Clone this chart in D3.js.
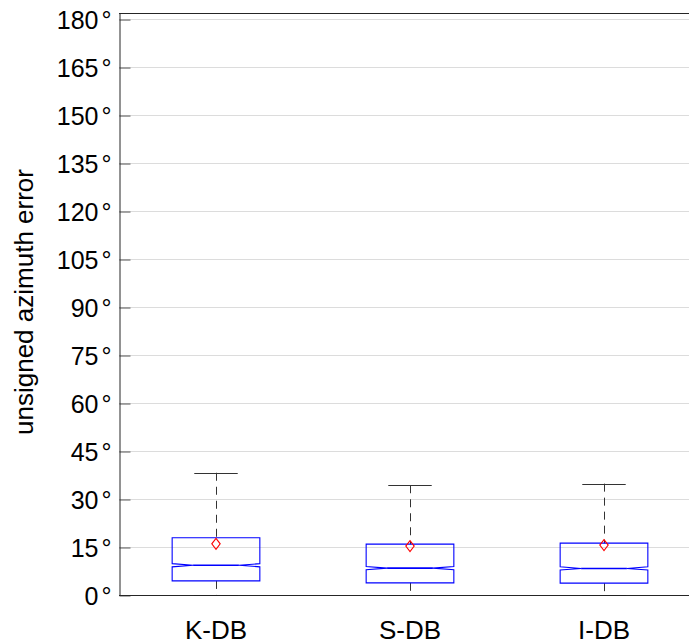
<!DOCTYPE html>
<html>
<head>
<meta charset="utf-8">
<script src="https://cdn.jsdelivr.net/npm/d3@7"></script>
<style>
  html, body { margin: 0; padding: 0; background: #fff; }
  svg { display: block; font-family: "Liberation Sans", Arial, Helvetica, sans-serif; }
</style>
</head>
<body>
<svg id="chart" width="689" height="643"></svg>
<script>
// Groups and box-plot summaries (degrees)
const categories   = ["K-DB", "S-DB", "I-DB"];
const whiskerLow   = [0, 0, 0];
const q1           = [4.4, 3.8, 3.7];
const notchLow     = [8.8, 7.9, 7.8];
const medians      = [9.3, 8.4, 8.3];
const notchHigh    = [9.8, 8.9, 8.8];
const q3           = [17.9, 15.9, 16.2];
const whiskerHigh  = [38.2, 34.3, 34.8];
const means        = [16.0, 15.3, 15.6];
const yTicks       = [0, 15, 30, 45, 60, 75, 90, 105, 120, 135, 150, 165, 180];
const yLabel       = "unsigned azimuth error";

const svg = d3.select("#chart");
const plotLeft = 119, plotRight = 701, plotTop = 13, plotBottom = 595;

const x = d3.scaleLinear().domain([0.5, categories.length + 0.5]).range([plotLeft, plotRight]);
const y = d3.scaleLinear().domain([0, 181.9]).range([plotBottom, plotTop]);

// Gridlines
svg.append("g")
  .selectAll("line")
  .data(yTicks.filter(t => t > 0))
  .join("line")
  .attr("x1", plotLeft).attr("x2", plotRight)
  .attr("y1", d => Math.round(y(d)) + 0.5).attr("y2", d => Math.round(y(d)) + 0.5)
  .attr("stroke", "#dcdcdc").attr("stroke-width", 1);

// Left axis: inward ticks, labels with degree sign
const yAxis = d3.axisLeft(y).tickValues(yTicks).tickSizeInner(-11).tickSizeOuter(0).tickPadding(0).tickFormat(() => "");
const gy = svg.append("g").attr("transform", `translate(${plotLeft + 0.5},0.5)`).call(yAxis);
gy.select(".domain").attr("stroke", "#262626");
gy.selectAll(".tick line").attr("stroke", "#262626").attr("stroke-opacity", 0.75);
gy.selectAll(".tick").each(function(d) {
  const t = d3.select(this).append("text")
    .attr("x", -8).attr("dy", "0.36em")
    .attr("text-anchor", "end").attr("fill", "#000")
    .attr("font-size", 25).attr("font-family", '"Liberation Sans", Arial, sans-serif');
  t.append("tspan").text(d);
  t.append("tspan").attr("dx", 3).text("°");
});

// Bottom axis and top frame
svg.append("line").attr("x1", plotLeft).attr("x2", plotRight)
  .attr("y1", plotBottom + 0.5).attr("y2", plotBottom + 0.5).attr("stroke", "#262626");
svg.append("line").attr("x1", plotLeft).attr("x2", plotRight)
  .attr("y1", plotTop + 0.5).attr("y2", plotTop + 0.5).attr("stroke", "#262626");

// Category labels
svg.append("g").selectAll("text")
  .data(categories)
  .join("text")
  .attr("x", (d, i) => x(i + 1))
  .attr("y", 639)
  .attr("text-anchor", "middle")
  .attr("font-size", 26)
  .attr("fill", "#000")
  .text(d => d);

// Y-axis title
svg.append("text")
  .attr("transform", `translate(33,302) rotate(-90)`)
  .attr("text-anchor", "middle")
  .attr("font-size", 26)
  .attr("fill", "#000")
  .text(yLabel);

// Boxes
const halfBox = 0.226, halfCap = 0.112, notchIn = 0.108;
const groups = svg.append("g").selectAll("g")
  .data(categories.map((c, i) => ({ c, i })))
  .join("g");

// dashed whiskers
groups.append("line")
  .attr("x1", d => Math.round(x(d.i + 1)) + 0.5).attr("x2", d => Math.round(x(d.i + 1)) + 0.5)
  .attr("y1", d => y(whiskerHigh[d.i])).attr("y2", d => y(q3[d.i]))
  .attr("stroke", "#333").attr("stroke-dasharray", "8,6");
groups.append("line")
  .attr("x1", d => Math.round(x(d.i + 1)) + 0.5).attr("x2", d => Math.round(x(d.i + 1)) + 0.5)
  .attr("y1", d => y(q1[d.i])).attr("y2", d => y(whiskerLow[d.i]))
  .attr("stroke", "#333").attr("stroke-dasharray", "8,6");
// whisker caps
groups.append("line")
  .attr("x1", d => x(d.i + 1 - halfCap)).attr("x2", d => x(d.i + 1 + halfCap))
  .attr("y1", d => Math.round(y(whiskerHigh[d.i])) + 0.5).attr("y2", d => Math.round(y(whiskerHigh[d.i])) + 0.5)
  .attr("stroke", "#333");
groups.append("line")
  .attr("x1", d => x(d.i + 1 - halfCap)).attr("x2", d => x(d.i + 1 + halfCap))
  .attr("y1", d => Math.round(y(whiskerLow[d.i])) + 0.5).attr("y2", d => Math.round(y(whiskerLow[d.i])) + 0.5)
  .attr("stroke", "#222");

// notched box outline
groups.append("path")
  .attr("fill", "none").attr("stroke", "#0000ff").attr("stroke-width", 1.1)
  .attr("d", d => {
    const i = d.i, c = i + 1;
    const xl = x(c - halfBox), xr = x(c + halfBox);
    const xnl = x(c - halfBox + notchIn), xnr = x(c + halfBox - notchIn);
    const p = d3.path();
    p.moveTo(xl, y(q1[i]));
    p.lineTo(xl, y(notchLow[i]));
    p.lineTo(xnl, y(medians[i]));
    p.lineTo(xl, y(notchHigh[i]));
    p.lineTo(xl, y(q3[i]));
    p.lineTo(xr, y(q3[i]));
    p.lineTo(xr, y(notchHigh[i]));
    p.lineTo(xnr, y(medians[i]));
    p.lineTo(xr, y(notchLow[i]));
    p.lineTo(xr, y(q1[i]));
    p.closePath();
    return p.toString();
  });
// median
groups.append("line")
  .attr("x1", d => x(d.i + 1 - halfBox + notchIn)).attr("x2", d => x(d.i + 1 + halfBox - notchIn))
  .attr("y1", d => y(medians[d.i])).attr("y2", d => y(medians[d.i]))
  .attr("stroke", "#0000ff").attr("stroke-width", 1.6);

// mean markers (diamonds)
groups.append("path")
  .attr("fill", "none").attr("stroke", "#ff0000").attr("stroke-width", 1.1)
  .attr("d", d => {
    const cx = x(d.i + 1), cy = y(means[d.i]);
    return `M${cx},${cy - 5.5}L${cx + 4.2},${cy}L${cx},${cy + 5.5}L${cx - 4.2},${cy}Z`;
  });
</script>
</body>
</html>
